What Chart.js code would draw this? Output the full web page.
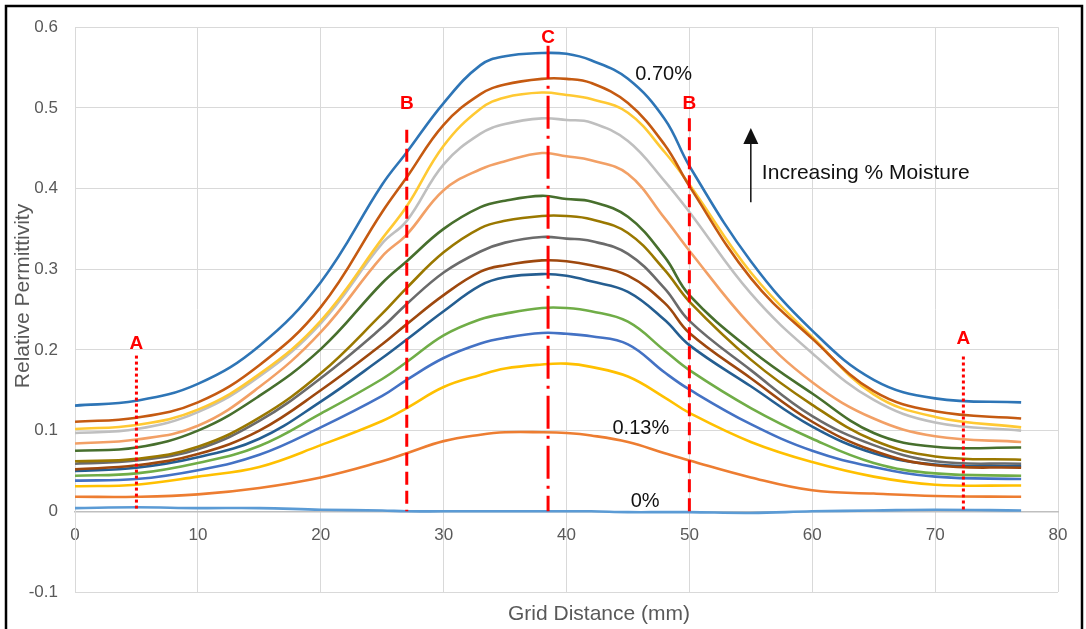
<!DOCTYPE html>
<html lang="en">
<head>
<meta charset="UTF-8">
<title>Relative Permittivity vs Grid Distance</title>
<script src="https://cdn.jsdelivr.net/npm/chart.js"></script>
<style>
  html, body { margin: 0; padding: 0; background: #fff; }
  #wrap { width: 1086px; height: 629px; }
</style>
</head>
<body>
<div id="wrap"><canvas id="chart" width="1086" height="629"></canvas></div>
<script>
const distance = [0, 5, 10, 15, 20, 25, 27, 30, 33, 35, 38, 40, 42, 45, 48, 50, 55, 60, 65, 70, 77];

// relative permittivity, from the 0.70% curve (top) down to 0% (bottom)
const m15 = [0.131, 0.137, 0.158, 0.205, 0.284, 0.405, 0.445, 0.506, 0.553, 0.564, 0.568, 0.567, 0.559, 0.536, 0.486, 0.428, 0.310, 0.224, 0.163, 0.140, 0.135];
const m14 = [0.111, 0.116, 0.135, 0.181, 0.253, 0.371, 0.414, 0.479, 0.517, 0.529, 0.536, 0.536, 0.531, 0.506, 0.454, 0.403, 0.289, 0.214, 0.149, 0.124, 0.115];
const m13 = [0.102, 0.107, 0.126, 0.170, 0.236, 0.338, 0.378, 0.453, 0.499, 0.513, 0.519, 0.516, 0.511, 0.494, 0.445, 0.405, 0.296, 0.216, 0.145, 0.117, 0.104];
const m12 = [0.097, 0.102, 0.123, 0.167, 0.233, 0.332, 0.360, 0.430, 0.468, 0.480, 0.487, 0.485, 0.482, 0.459, 0.409, 0.371, 0.270, 0.196, 0.138, 0.110, 0.100];
const m11 = [0.084, 0.089, 0.106, 0.154, 0.222, 0.316, 0.343, 0.398, 0.424, 0.434, 0.444, 0.440, 0.435, 0.418, 0.363, 0.323, 0.230, 0.160, 0.115, 0.093, 0.086];
const m10 = [0.075, 0.079, 0.100, 0.143, 0.201, 0.283, 0.310, 0.350, 0.377, 0.385, 0.391, 0.387, 0.384, 0.365, 0.315, 0.268, 0.200, 0.146, 0.097, 0.080, 0.079];
const m9  = [0.062, 0.065, 0.080, 0.116, 0.171, 0.245, 0.277, 0.321, 0.351, 0.360, 0.366, 0.366, 0.362, 0.345, 0.299, 0.260, 0.188, 0.132, 0.088, 0.068, 0.064];
const m8  = [0.059, 0.063, 0.077, 0.112, 0.165, 0.228, 0.257, 0.296, 0.322, 0.333, 0.340, 0.338, 0.335, 0.319, 0.276, 0.236, 0.175, 0.118, 0.082, 0.062, 0.059];
const m7  = [0.052, 0.057, 0.071, 0.100, 0.150, 0.207, 0.232, 0.268, 0.297, 0.305, 0.311, 0.310, 0.305, 0.292, 0.258, 0.221, 0.165, 0.111, 0.075, 0.057, 0.054];
const m6  = [0.050, 0.054, 0.067, 0.090, 0.136, 0.190, 0.213, 0.248, 0.280, 0.290, 0.294, 0.292, 0.285, 0.272, 0.237, 0.206, 0.155, 0.105, 0.072, 0.058, 0.056];
const m5  = [0.044, 0.047, 0.060, 0.081, 0.121, 0.164, 0.185, 0.218, 0.238, 0.245, 0.252, 0.252, 0.248, 0.235, 0.199, 0.175, 0.128, 0.090, 0.060, 0.047, 0.044];
const m4  = [0.038, 0.040, 0.051, 0.070, 0.104, 0.143, 0.163, 0.190, 0.208, 0.215, 0.221, 0.220, 0.217, 0.207, 0.172, 0.151, 0.108, 0.075, 0.055, 0.043, 0.040];
const m3  = [0.031, 0.033, 0.043, 0.055, 0.082, 0.112, 0.128, 0.154, 0.169, 0.177, 0.182, 0.183, 0.179, 0.167, 0.141, 0.122, 0.086, 0.061, 0.043, 0.033, 0.032];
const m2  = [0.018, 0.018, 0.021, 0.029, 0.042, 0.062, 0.072, 0.087, 0.095, 0.098, 0.098, 0.097, 0.094, 0.086, 0.072, 0.063, 0.042, 0.026, 0.022, 0.019, 0.018];
const m1  = [0.004, 0.005, 0.004, 0.004, 0.002, 0.001, 0.000, 0.000, 0.000, 0.000, 0.000, 0.000, 0.000, -0.001, -0.001, -0.001, -0.002, 0.000, 0.001, 0.002, 0.001];

const curves = [m15, m14, m13, m12, m11, m10, m9, m8, m7, m6, m5, m4, m3, m2, m1];
const curveColors = ['#2E75B6', '#C55A11', '#FFC933', '#BFBFBF', '#F2A066', '#476F2D', '#9A7800',
                     '#6B6B6B', '#9E480E', '#255E91', '#70AD47', '#4472C4', '#FFC000', '#ED7D31', '#5B9BD5'];

// red section lines A, B, C
const markerNames = ['A', 'B', 'C', 'B', 'A'];
const markerX = [5, 27, 38.5, 50, 72.3];
const markerTop = [0.193, 0.473, 0.577, 0.487, 0.192];
const markerLabelY = [0.208, 0.505, 0.587, 0.505, 0.214];

const xTicks = [0, 10, 20, 30, 40, 50, 60, 70, 80];
const yTicks = [-0.1, 0, 0.1, 0.2, 0.3, 0.4, 0.5, 0.6];
const yTickLabels = ['-0.1', '0', '0.1', '0.2', '0.3', '0.4', '0.5', '0.6'];

const FONT = '"Liberation Sans", Arial, sans-serif';

const markerStyle = { A: [3, 3], B: [13, 6], C: [33, 7, 3, 7] };

const datasets = curves.map((vals, i) => ({
    data: distance.map((d, k) => ({ x: d, y: vals[k] })),
    borderColor: curveColors[i],
    borderWidth: 2.6,
    pointRadius: 0,
    tension: 0.4,
    fill: false,
    order: 1
}));

// dashes start at the top of each section line
markerNames.forEach((name, i) => {
    datasets.push({
        data: [{ x: markerX[i], y: markerTop[i] }, { x: markerX[i], y: 0 }],
        borderColor: '#FF0000',
        borderWidth: 3,
        borderDash: markerStyle[name],
        borderCapStyle: 'butt',
        pointRadius: 0,
        tension: 0,
        fill: false,
        order: 0
    });
});

// text and arrow placed in data units
const overlay = {
    id: 'overlay',
    afterDatasetsDraw(chart) {
        const { ctx, scales: { x, y } } = chart;
        ctx.save();
        ctx.textAlign = 'center';
        ctx.textBaseline = 'middle';

        ctx.fillStyle = '#FF0000';
        ctx.font = 'bold 19px ' + FONT;
        markerNames.forEach((name, i) => {
            ctx.fillText(name, x.getPixelForValue(markerX[i]), y.getPixelForValue(markerLabelY[i]));
        });

        ctx.fillStyle = '#111';
        ctx.font = '20px ' + FONT;
        ctx.fillText('0.70%', x.getPixelForValue(47.9), y.getPixelForValue(0.542));
        ctx.fillText('0.13%', x.getPixelForValue(46.05), y.getPixelForValue(0.103));
        ctx.fillText('0%', x.getPixelForValue(46.4), y.getPixelForValue(0.012));

        ctx.textAlign = 'left';
        ctx.font = '21px ' + FONT;
        ctx.fillText('Increasing % Moisture', x.getPixelForValue(55.9), y.getPixelForValue(0.419));

        // arrow
        const ax = x.getPixelForValue(55);
        const yTop = y.getPixelForValue(0.475);
        const yBot = y.getPixelForValue(0.383);
        ctx.strokeStyle = '#111';
        ctx.lineWidth = 1.5;
        ctx.beginPath();
        ctx.moveTo(ax, yBot);
        ctx.lineTo(ax, yTop + 12);
        ctx.stroke();
        ctx.beginPath();
        ctx.moveTo(ax, yTop);
        ctx.lineTo(ax - 7.5, yTop + 16);
        ctx.lineTo(ax + 7.5, yTop + 16);
        ctx.closePath();
        ctx.fill();
        ctx.restore();
    },
    afterDraw(chart) {
        const { ctx } = chart;
        ctx.save();
        ctx.fillStyle = '#595959';
        ctx.font = '21px ' + FONT;
        ctx.textAlign = 'center';
        ctx.textBaseline = 'middle';
        ctx.fillText('Grid Distance (mm)', 599, 614);
        ctx.translate(23, 296);
        ctx.rotate(-Math.PI / 2);
        ctx.fillText('Relative Permittivity', 0, 0);
        ctx.restore();

        // outer frame
        ctx.save();
        ctx.strokeStyle = '#000';
        ctx.lineWidth = 2.5;
        ctx.strokeRect(6, 6, 1076, 640);
        ctx.restore();
    }
};

new Chart(document.getElementById('chart'), {
    type: 'line',
    data: { datasets },
    options: {
        responsive: false,
        animation: false,
        layout: { padding: { left: 0, right: 28, top: 20, bottom: 37 } },
        plugins: {
            legend: { display: false },
            tooltip: { enabled: false }
        },
        scales: {
            x: {
                type: 'linear',
                min: 0,
                max: 80,
                position: { y: 0 },
                afterBuildTicks: s => { s.ticks = xTicks.map(v => ({ value: v })); },
                grid: { color: '#D9D9D9', lineWidth: 1, drawTicks: false },
                border: { color: '#BFBFBF', width: 1.5 },
                ticks: {
                    padding: 14,
                    color: '#595959',
                    font: { family: FONT, size: 17 },
                    maxRotation: 0,
                    callback: v => String(v)
                }
            },
            y: {
                type: 'linear',
                min: -0.1,
                max: 0.6,
                afterBuildTicks: s => { s.ticks = yTicks.map(v => ({ value: v })); },
                afterFit: s => { s.width = 75; },
                grid: { color: '#D9D9D9', lineWidth: 1, drawTicks: false },
                border: { color: '#D9D9D9' },
                ticks: {
                    padding: 17,
                    color: '#595959',
                    font: { family: FONT, size: 17 },
                    callback: (v, i) => yTickLabels[i]
                }
            }
        }
    },
    plugins: [overlay]
});
</script>
</body>
</html>
